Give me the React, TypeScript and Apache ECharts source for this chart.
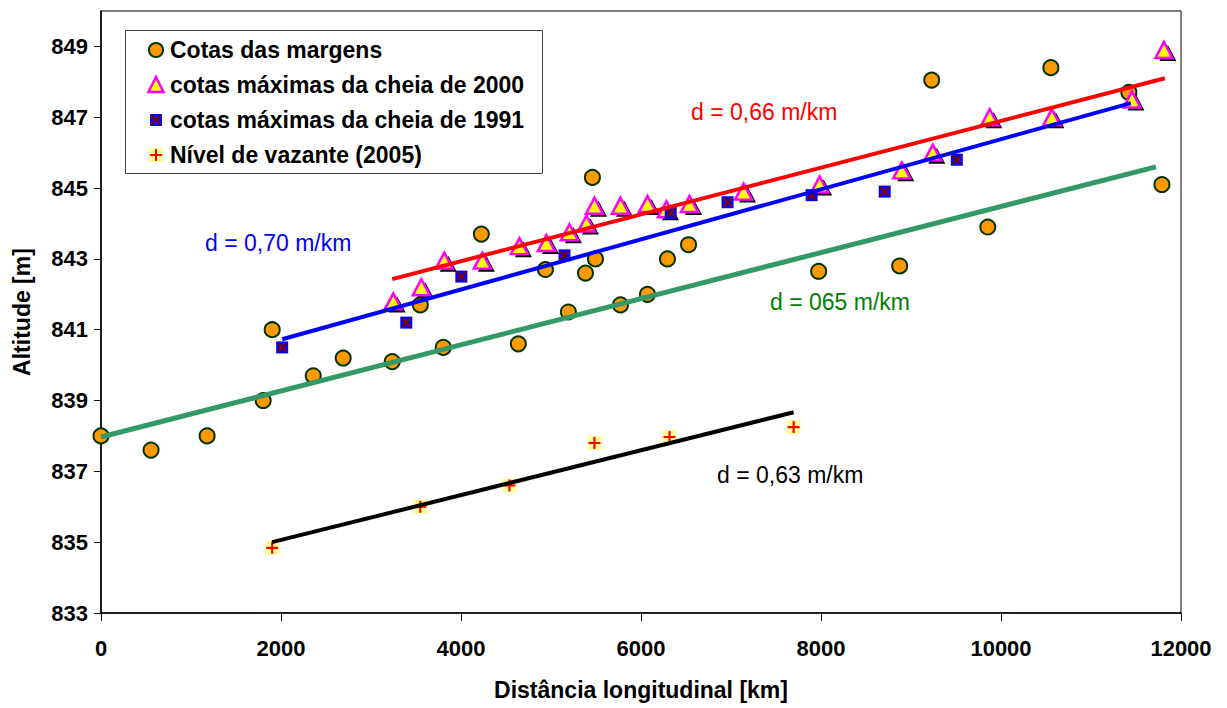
import { useEffect, useRef } from "react";
import * as echarts from "echarts";

const FONT = "'Liberation Sans', Arial, sans-serif";

// Cotas das margens
const margensX = [0, 556, 1179, 1802, 1902, 2358, 2691, 3236, 3548, 3803, 4226, 4637, 4938, 5193, 5383, 5460, 5494, 5772, 6072, 6294, 6528, 7974, 8874, 9230, 9853, 10554, 11421, 11788];
const margensY = [838.0, 837.6, 838.0, 839.0, 841.0, 839.7, 840.2, 840.1, 841.7, 840.5, 843.7, 840.6, 842.7, 841.5, 842.6, 845.3, 843.0, 841.7, 842.0, 843.0, 843.4, 842.65, 842.8, 848.05, 843.9, 848.4, 847.7, 845.1];

// cotas máximas da cheia de 2000
const cheia2000X = [3247, 3559, 3814, 4237, 4649, 4949, 5205, 5394, 5483, 5772, 6072, 6283, 6539, 7140, 7985, 8897, 9242, 9875, 10565, 11455, 11810];
const cheia2000Y = [841.8, 842.2, 842.95, 842.95, 843.36, 843.45, 843.75, 844.0, 844.5, 844.5, 844.55, 844.4, 844.55, 844.9, 845.1, 845.5, 846.0, 847.0, 847.0, 847.5, 848.9];

// cotas máximas da cheia de 1991
const cheia1991X = [2013, 3392, 4004, 5150, 6330, 6962, 7896, 8708, 9509];
const cheia1991Y = [840.5, 841.2, 842.5, 843.1, 844.3, 844.6, 844.8, 844.9, 845.8];

// Nível de vazante (2005)
const vazanteX = [1902, 3548, 4538, 5483, 6317, 7696];
const vazanteY = [834.84, 836.0, 836.6, 837.8, 837.97, 838.25];

// Trend lines (end points)
const trendRed = [[3236, 842.43], [11821, 848.1]];
const trendBlue = [[2013, 840.73], [11443, 847.4]];
const trendGreen = [[0, 837.97], [11721, 845.6]];
const trendBlack = [[1902, 835.0], [7696, 838.67]];

const legendLabels = [
  "Cotas das margens",
  "cotas máximas da cheia de 2000",
  "cotas máximas da cheia de 1991",
  "Nível de vazante (2005)",
];

const xAxisTitle = "Distância longitudinal [km]";
const yAxisTitle = "Altitude [m]";

const pairs = (xs: number[], ys: number[]) => xs.map((x, i) => [x, ys[i]]);

const X_PATH = "path://M0,1.6 L1.6,0 L10,8.4 L8.4,10 Z M8.4,0 L10,1.6 L1.6,10 L0,8.4 Z";
const PLUS_PATH = "path://M4.1,0 L5.9,0 L5.9,4.1 L10,4.1 L10,5.9 L5.9,5.9 L5.9,10 L4.1,10 L4.1,5.9 L0,5.9 L0,4.1 L4.1,4.1 Z";

export default function App() {
  const ref = useRef<HTMLDivElement>(null);

  useEffect(() => {
    if (!ref.current) return;
    const chart = echarts.init(ref.current, undefined, { renderer: "svg" });

    const lx = 156;
    const rows = [50, 85, 120, 155];

    const option: any = {
      animation: false,
      backgroundColor: "#fff",
      grid: {
        left: 101,
        right: 46,
        top: 11,
        bottom: 95,
        show: true,
        borderColor: "#000",
        borderWidth: 1,
        backgroundColor: "transparent",
      },
      xAxis: {
        type: "value",
        min: 0,
        max: 12000,
        interval: 2000,
        name: xAxisTitle,
        nameLocation: "middle",
        nameGap: 65,
        nameTextStyle: { fontFamily: FONT, fontWeight: "bold", fontSize: 23, color: "#000" },
        axisLine: { show: true, onZero: false, lineStyle: { color: "#000", width: 1.5 } },
        axisTick: { show: true, inside: false, length: 8, lineStyle: { color: "#000" } },
        axisLabel: {
          fontFamily: FONT,
          fontWeight: "bold",
          fontSize: 22,
          color: "#000",
          margin: 24,
          formatter: (v: number) => String(v),
        },
        splitLine: { show: false },
      },
      yAxis: {
        type: "value",
        min: 833,
        max: 850,
        interval: 2,
        name: yAxisTitle,
        nameLocation: "middle",
        nameGap: 68,
        nameRotate: 90,
        nameTextStyle: { fontFamily: FONT, fontWeight: "bold", fontSize: 23, color: "#000" },
        axisLine: { show: true, onZero: false, lineStyle: { color: "#000", width: 1.5 } },
        axisTick: { show: true, inside: false, length: 7, lineStyle: { color: "#000" } },
        axisLabel: {
          fontFamily: FONT,
          fontWeight: "bold",
          fontSize: 22,
          color: "#000",
          margin: 13,
          showMaxLabel: false,
          formatter: (v: number) => (v === 850 ? "" : String(v)),
        },
        splitLine: { show: false },
      },
      series: [
        {
          type: "scatter",
          name: legendLabels[0],
          data: pairs(margensX, margensY),
          symbol: "circle",
          symbolSize: 15,
          itemStyle: { color: "#FF9900", borderColor: "#003300", borderWidth: 2, opacity: 1 },
          z: 2,
        },
        {
          type: "scatter",
          name: "sombra",
          data: pairs(cheia2000X, cheia2000Y),
          symbol: "triangle",
          symbolSize: [17, 16],
          symbolOffset: [4, 3],
          itemStyle: { color: "#000", opacity: 1 },
          z: 2,
        },
        {
          type: "scatter",
          name: legendLabels[1],
          data: pairs(cheia2000X, cheia2000Y),
          symbol: "triangle",
          symbolSize: [17, 16],
          itemStyle: { color: "#FFFF00", borderColor: "#FF00FF", borderWidth: 2.5, opacity: 1 },
          z: 2,
        },
        {
          type: "scatter",
          name: legendLabels[2],
          data: pairs(cheia1991X, cheia1991Y),
          symbol: "rect",
          symbolSize: 12,
          itemStyle: { color: "#0000FF", opacity: 1 },
          z: 2,
        },
        {
          type: "scatter",
          name: "x1991",
          data: pairs(cheia1991X, cheia1991Y),
          symbol: X_PATH,
          symbolSize: 10,
          itemStyle: { color: "#800000", opacity: 1 },
          z: 2,
        },
        {
          type: "scatter",
          name: legendLabels[3],
          data: pairs(vazanteX, vazanteY),
          symbol: "rect",
          symbolSize: 14,
          itemStyle: { color: "#FFFF99", opacity: 1 },
          z: 2,
        },
        {
          type: "scatter",
          name: "plus2005",
          data: pairs(vazanteX, vazanteY),
          symbol: PLUS_PATH,
          symbolSize: 12,
          itemStyle: { color: "#FF0000", opacity: 1 },
          z: 2,
        },
        {
          type: "line",
          data: trendGreen,
          symbol: "none",
          lineStyle: { color: "#339966", width: 5 },
          z: 5,
        },
        {
          type: "line",
          data: trendBlue,
          symbol: "none",
          lineStyle: { color: "#0000FF", width: 4 },
          z: 5,
        },
        {
          type: "line",
          data: trendRed,
          symbol: "none",
          lineStyle: { color: "#FF0000", width: 4 },
          z: 5,
        },
        {
          type: "line",
          data: trendBlack,
          symbol: "none",
          lineStyle: { color: "#000000", width: 4 },
          z: 5,
        },
      ],
      graphic: [
        {
          type: "text",
          x: 205,
          y: 243,
          z: 10,
          style: { text: "d = 0,70 m/km", font: `23px ${FONT}`, fill: "#0000FF", verticalAlign: "middle" },
        },
        {
          type: "text",
          x: 691,
          y: 112,
          z: 10,
          style: { text: "d = 0,66 m/km", font: `23px ${FONT}`, fill: "#FF0000", verticalAlign: "middle" },
        },
        {
          type: "text",
          x: 770,
          y: 302,
          z: 10,
          style: { text: "d = 065 m/km", font: `23px ${FONT}`, fill: "#008000", verticalAlign: "middle" },
        },
        {
          type: "text",
          x: 717,
          y: 475,
          z: 10,
          style: { text: "d = 0,63 m/km", font: `23px ${FONT}`, fill: "#000000", verticalAlign: "middle" },
        },
        {
          type: "group",
          z: 20,
          children: [
            {
              type: "rect",
              shape: { x: 125.5, y: 30.5, width: 417, height: 143 },
              style: { fill: "#fff", stroke: "#404040", lineWidth: 1 },
            },
            {
              type: "circle",
              shape: { cx: lx, cy: rows[0], r: 7 },
              style: { fill: "#FF9900", stroke: "#003300", lineWidth: 2 },
            },
            {
              type: "polygon",
              shape: { points: [[lx, rows[1] - 8], [lx - 7.5, rows[1] + 7], [lx + 7.5, rows[1] + 7]] },
              style: { fill: "#FFFF00", stroke: "#FF00FF", lineWidth: 2.5 },
            },
            {
              type: "rect",
              shape: { x: lx - 6, y: rows[2] - 6, width: 12, height: 12 },
              style: { fill: "#0000FF" },
            },
            {
              type: "line",
              shape: { x1: lx - 5, y1: rows[2] - 5, x2: lx + 5, y2: rows[2] + 5 },
              style: { stroke: "#800000", lineWidth: 2 },
            },
            {
              type: "line",
              shape: { x1: lx + 5, y1: rows[2] - 5, x2: lx - 5, y2: rows[2] + 5 },
              style: { stroke: "#800000", lineWidth: 2 },
            },
            {
              type: "rect",
              shape: { x: lx - 7, y: rows[3] - 7, width: 14, height: 14 },
              style: { fill: "#FFFF99" },
            },
            {
              type: "line",
              shape: { x1: lx - 6, y1: rows[3], x2: lx + 6, y2: rows[3] },
              style: { stroke: "#FF0000", lineWidth: 2 },
            },
            {
              type: "line",
              shape: { x1: lx, y1: rows[3] - 6, x2: lx, y2: rows[3] + 6 },
              style: { stroke: "#FF0000", lineWidth: 2 },
            },
            ...legendLabels.map((t, i) => ({
              type: "text",
              x: 170,
              y: rows[i],
              style: {
                text: t,
                font: `bold 23px ${FONT}`,
                fill: "#000",
                verticalAlign: "middle",
              },
            })),
          ],
        },
      ],
    };

    chart.setOption(option);
    return () => chart.dispose();
  }, []);

  return (
    <div
      ref={ref}
      style={{ position: "fixed", left: 0, top: 0, width: 1227, height: 708, background: "#fff" }}
    />
  );
}
